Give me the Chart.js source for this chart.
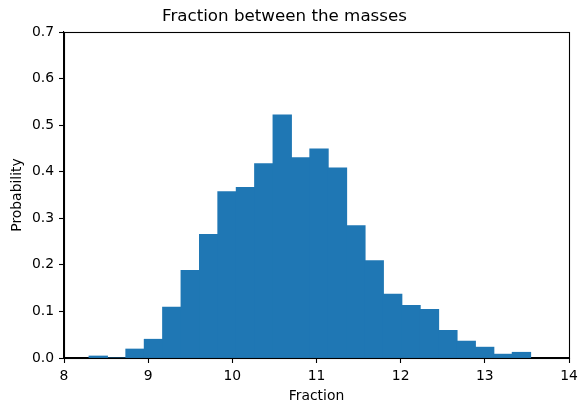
<!DOCTYPE html>
<html>
<head>
<meta charset="utf-8">
<script src="https://cdn.jsdelivr.net/npm/chart.js@4.4.0/dist/chart.umd.min.js"></script>
<style>
  html, body { margin: 0; padding: 0; background: #fff; }
  #wrap { width: 579px; height: 404px; }
</style>
</head>
<body>
<div id="wrap"><canvas id="c" width="579" height="404"></canvas></div>
<script>
const binCenters = [8.407, 8.626, 8.844, 9.063, 9.281, 9.500, 9.719, 9.937, 10.156, 10.374, 10.593, 10.812,
                    11.030, 11.249, 11.468, 11.686, 11.905, 12.123, 12.342, 12.561, 12.779, 12.998, 13.216, 13.435];
const probabilities = [0.004, 0, 0.019, 0.040, 0.109, 0.188, 0.265, 0.357, 0.366, 0.417, 0.522, 0.430,
                       0.449, 0.408, 0.284, 0.209, 0.137, 0.113, 0.104, 0.059, 0.036, 0.023, 0.008, 0.012];
const xTicks = [8, 9, 10, 11, 12, 13, 14];
const yTicks = [0.0, 0.1, 0.2, 0.3, 0.4, 0.5, 0.6, 0.7];
const titleText = 'Fraction between the masses';
const xLabel = 'Fraction';
const yLabel = 'Probability';

Chart.defaults.font.family = '"DejaVu Sans", sans-serif';
Chart.defaults.color = '#000';

const boxPlugin = {
  id: 'box',
  afterDatasetsDraw(chart) {
    const a = chart.chartArea, ctx = chart.ctx;
    ctx.save();
    ctx.strokeStyle = '#000';
    ctx.lineWidth = 1.1;
    ctx.strokeRect(Math.round(a.left) + 0.5, Math.round(a.top) + 0.5,
                   Math.round(a.right - a.left), Math.round(a.bottom - a.top));
    ctx.restore();
  }
};

new Chart(document.getElementById('c'), {
  type: 'bar',
  data: {
    datasets: [{
      data: binCenters.map((x, i) => ({ x: x, y: probabilities[i] })),
      backgroundColor: '#1f77b4',
      borderWidth: 0,
      inflateAmount: 0.5,
      barPercentage: 1.0,
      categoryPercentage: 1.0
    }]
  },
  options: {
    responsive: false,
    animation: false,
    layout: { padding: { left: 0, right: 10, top: 0, bottom: 0 } },
    plugins: {
      legend: { display: false },
      tooltip: { enabled: false },
      title: {
        display: true,
        text: titleText,
        font: { size: 16.7, weight: 'normal' },
        color: '#000',
        padding: { top: 7, bottom: 5 }
      }
    },
    scales: {
      x: {
        type: 'linear',
        offset: false,
        min: 8, max: 14,
        afterBuildTicks(scale) { scale.ticks = xTicks.map(v => ({ value: v })); },
        afterFit(scale) { scale.height = 46; scale.paddingLeft = 0; scale.paddingRight = 0; },
        grid: { offset: false, drawOnChartArea: false, drawTicks: true, tickLength: 5, tickColor: '#000', tickWidth: 1.1 },
        border: { display: true, color: '#000', width: 1.1 },
        ticks: { font: { size: 13.9 }, padding: 5, maxRotation: 0, autoSkip: false, color: '#000' },
        title: { display: true, text: xLabel, font: { size: 13.9 }, padding: { top: 0, bottom: -1 }, color: '#000' }
      },
      y: {
        min: 0, max: 0.7,
        afterBuildTicks(scale) { scale.ticks = yTicks.map(v => ({ value: v })); },
        afterFit(scale) { scale.width = 64; scale.paddingTop = 0; scale.paddingBottom = 0; },
        grid: { drawOnChartArea: false, drawTicks: true, tickLength: 5, tickColor: '#000', tickWidth: 1.1 },
        border: { display: true, color: '#000', width: 1.1 },
        ticks: { font: { size: 13.9 }, padding: 5, color: '#000', callback: v => Number(v).toFixed(1) },
        title: { display: true, text: yLabel, font: { size: 13.9 }, padding: { top: 9, bottom: 0 }, color: '#000' }
      }
    }
  },
  plugins: [boxPlugin]
});
</script>
</body>
</html>
